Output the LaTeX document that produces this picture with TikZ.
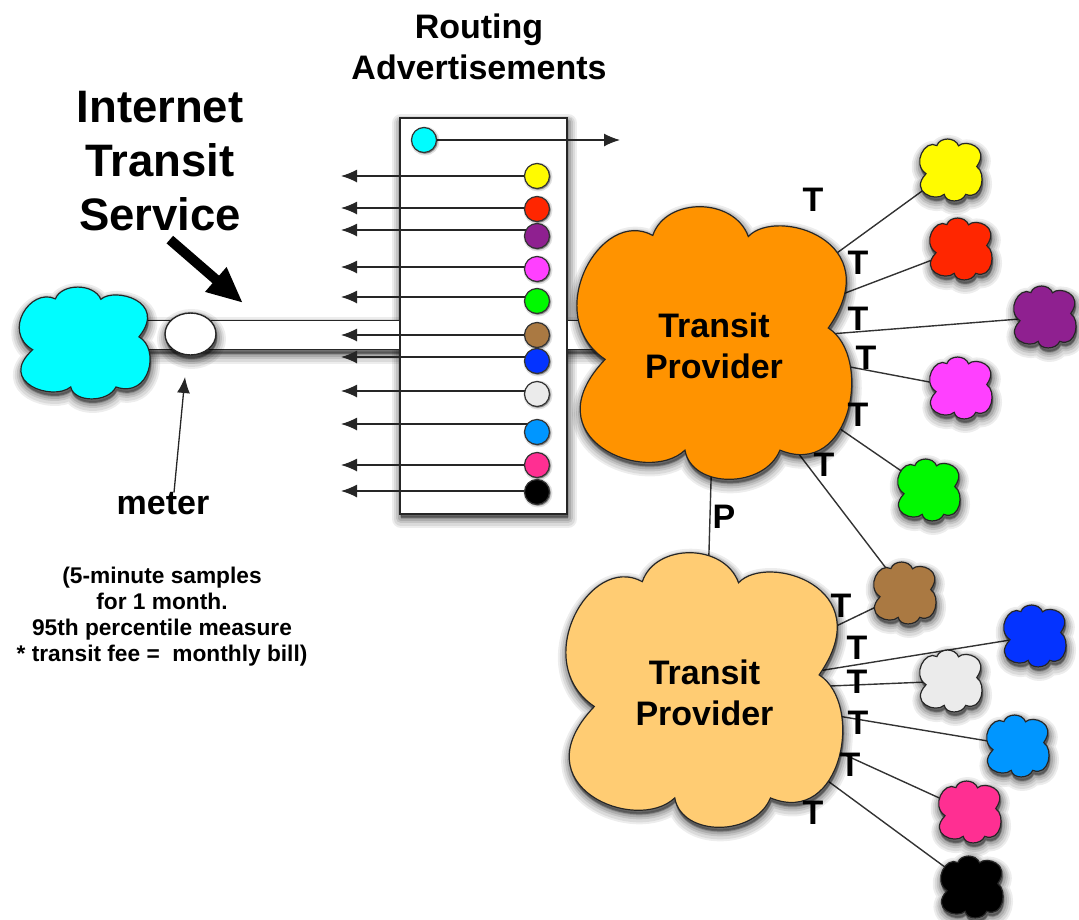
\documentclass[tikz,border=0pt]{standalone}
\usepackage{fontspec}
\setmainfont{Liberation Sans}
\usetikzlibrary{shapes.geometric,arrows.meta}

\definecolor{cCyan}{HTML}{00FDFF}
\definecolor{cYellow}{HTML}{FFFB00}
\definecolor{cRed}{HTML}{FF2600}
\definecolor{cPurple}{HTML}{8F2090}
\definecolor{cMagenta}{HTML}{FF40FF}
\definecolor{cGreen}{HTML}{00F900}
\definecolor{cBrown}{HTML}{AA7942}
\definecolor{cBlue}{HTML}{0433FF}
\definecolor{cGray}{HTML}{EBEBEB}
\definecolor{cAzure}{HTML}{0096FF}
\definecolor{cPink}{HTML}{FF2F92}
\definecolor{cOrange}{HTML}{FF9300}
\definecolor{cSand}{HTML}{FFCC73}

\pgfdeclarelayer{backlayer}
\pgfdeclarelayer{edgelayer}
\pgfsetlayers{backlayer,edgelayer,main}

% six lobes, the same outline at every size
\newdimen\cldcx \newdimen\cldcy \newdimen\cldhw \newdimen\cldhh
\newcommand{\cldpt}[2]{\pgfpoint{\cldcx+(#1)*\cldhw}{\cldcy+(#2)*\cldhh}}
\makeatletter
\pgfdeclareshape{puffcloud}{
  \inheritsavedanchors[from=rectangle]
  \inheritanchorborder[from=rectangle]
  \inheritanchor[from=rectangle]{center}
  \inheritanchor[from=rectangle]{north}
  \inheritanchor[from=rectangle]{south}
  \inheritanchor[from=rectangle]{east}
  \inheritanchor[from=rectangle]{west}
  \backgroundpath{
    \southwest \pgf@xa=\pgf@x \pgf@ya=\pgf@y
    \northeast \pgf@xb=\pgf@x \pgf@yb=\pgf@y
    \cldcx=0.5\pgf@xa \advance\cldcx by 0.5\pgf@xb
    \cldcy=0.5\pgf@ya \advance\cldcy by 0.5\pgf@yb
    \cldhw=0.5\pgf@xb \advance\cldhw by -0.5\pgf@xa
    \cldhh=0.5\pgf@yb \advance\cldhh by -0.5\pgf@ya
    \pgfpathmoveto{\cldpt{-0.456}{0.788}}
    \pgfpathcurveto{\cldpt{-0.36}{1.07}}{\cldpt{0.14}{1.07}}{\cldpt{0.244}{0.78}}
    \pgfpathcurveto{\cldpt{0.45}{1.0}}{\cldpt{1.28}{0.75}}{\cldpt{0.83}{0.11}}
    \pgfpathcurveto{\cldpt{1.16}{-0.1}}{\cldpt{1.0}{-1.0}}{\cldpt{0.476}{-0.785}}
    \pgfpathcurveto{\cldpt{0.36}{-1.07}}{\cldpt{-0.17}{-1.07}}{\cldpt{-0.22}{-0.785}}
    \pgfpathcurveto{\cldpt{-0.5}{-1.05}}{\cldpt{-1.36}{-0.7}}{\cldpt{-0.805}{-0.12}}
    \pgfpathcurveto{\cldpt{-1.28}{0.2}}{\cldpt{-0.84}{1.0}}{\cldpt{-0.456}{0.788}}
    \pgfpathclose
  }
}
\makeatother

\tikzset{
  shadelayer/.style n args={3}{preaction={draw=black,fill=black,line join=round,line width=#1pt,opacity=#2,
    transform canvas={xshift=1pt,yshift=-#3pt}}},
  softshadow/.style={shadelayer={18}{.07}{5},shadelayer={14}{.08}{5},shadelayer={10}{.1}{4},
    shadelayer={6}{.12}{4},shadelayer={2}{.14}{3}},
  bigcloud/.style={puffcloud,draw=black!85,line width=1.2pt,inner sep=0pt,outer sep=0pt,softshadow},
  smallcloud/.style={puffcloud,draw=black!85,line width=1.2pt,inner sep=0pt,outer sep=0pt,
    minimum width=62pt,minimum height=62pt,softshadow},
  plainbox/.style={draw=black!85,fill=white,line width=1.4pt,inner sep=0pt},
  advdot/.style={circle,draw=black!80,line width=1.2pt,minimum size=25pt,inner sep=0pt,
    shadelayer={4}{.12}{1},shadelayer={1}{.2}{1}},
  advline/.style={line width=1.3pt,black!85,-{Latex[length=16pt,width=13pt]}},
  linkline/.style={line width=1.4pt,black!80},
  lbl/.style={font=\labelfont,inner sep=0pt,align=center}
}
\newcommand{\labelfont}{\bfseries\fontsize{34}{41}\selectfont}

\begin{document}
\begin{tikzpicture}[x=1pt,y=-1pt]
\useasboundingbox (0,0) rectangle (1079,919);

% shadow of the box goes under the pipe, the box itself over it
\begin{pgfonlayer}{backlayer}
\node[softshadow,minimum width=167pt,minimum height=396pt,inner sep=0pt] (advshade) at (483.5,316) {};
\node[plainbox,softshadow,minimum width=480pt,minimum height=29pt] (pipe) at (370,335) {};
\node[plainbox,minimum width=167pt,minimum height=396pt] (advbox) at (483.5,316) {};
\end{pgfonlayer}

% access cloud and meter
\node[smallcloud,fill=cCyan,minimum width=130pt,minimum height=112pt] (source) at (85,343) {};
\node[plainbox,softshadow,ellipse,minimum width=51pt,minimum height=42pt] (meter) at (190.5,334) {};

% titles
\node[lbl,font=\bfseries\fontsize{45.5}{54}\selectfont] (title) at (160,161) {Internet\\Transit\\Service};
\node[lbl] (routing) at (479,47) {Routing\\Advertisements};
\node[lbl] (meterlabel) at (163,504) {meter};
\node[lbl,font=\bfseries\fontsize{22.7}{26}\selectfont] (note) at (162,617) {(5-minute samples\\for 1 month.\\95th percentile measure\\* transit fee = \ monthly bill)};

\coordinate (bigtip) at (243,303);
\draw[line width=10pt,-{Triangle[length=36pt,width=30pt]},shorten <=13pt] (title.south) -- (bigtip);
\coordinate (metertip) at (185,377);
\draw[advline] ([xshift=11pt]meterlabel.north) -- (metertip);

% routes in the box
\node[advdot,fill=cCyan] (advsource) at (424,140) {};
\coordinate (outtip) at (620,140);
\begin{pgfonlayer}{edgelayer}
\draw[advline] (advsource) -- (outtip);
\end{pgfonlayer}
\foreach \name/\col/\cy/\ly in {yellow/cYellow/176/176,red/cRed/209/208,purple/cPurple/236/230,
  magenta/cMagenta/269/267,green/cGreen/301/297,brown/cBrown/335/335,blue/cBlue/361/357,
  gray/cGray/394/391,azure/cAzure/432/424,pink/cPink/465/465,black/black/492/491}{
  \node[advdot,fill=\col] (adv\name) at (537,\cy) {};
  \coordinate (tip\name) at (341,\ly);
  \begin{pgfonlayer}{edgelayer}
  \draw[advline] (tip\name -| adv\name.center) -- (tip\name);
  \end{pgfonlayer}
}

% the two providers
\node[bigcloud,fill=cOrange,minimum width=273pt,minimum height=273pt] (upper) at (715,343) {};
\node[bigcloud,fill=cSand,minimum width=275pt,minimum height=275pt] (lower) at (705,690) {};
\node[lbl] (upperlabel) at (714,346) {Transit\\Provider};
\node[lbl] (lowerlabel) at (704.5,692.5) {Transit\\Provider};
\begin{pgfonlayer}{edgelayer}
\draw[linkline] (upper.center) -- (lower.center);
\end{pgfonlayer}
\node[lbl] (peer) at (724,517) {P};

% customers
\foreach \name/\col/\cx/\cy/\px/\py in {yellow/cYellow/951/170/830/258,red/cRed/961/249/840/295,
  purple/cPurple/1045/317/830/334,magenta/cMagenta/961/388/845/366,green/cGreen/929/490/830/422,
  brown/cBrown/905/593/795/449,blue/cBlue/1035/636/818/671,gray/cGray/951/681/830/686,
  azure/cAzure/1018/746/838/716,pink/cPink/970/812/832/749,black/black/972/887/817/773}{
  \node[smallcloud,fill=\col] (cust\name) at (\cx,\cy) {};
  \coordinate (port\name) at (\px,\py);
  \begin{pgfonlayer}{edgelayer}
  \draw[linkline] (port\name) -- (cust\name.center);
  \end{pgfonlayer}
}
\coordinate (portbrownb) at (830,629);
\begin{pgfonlayer}{edgelayer}
\draw[linkline] (portbrownb) -- (custbrown.center);
\end{pgfonlayer}

% link labels
\foreach \i/\x/\y in {1/813/200,2/858/263,3/858/319,4/866/358,5/858/415,6/824/465,
  7/841/606,8/857/648,9/857/682,10/858/723,11/850/765,12/813/813}{
  \node[lbl] (t\i) at (\x,\y) {T};
}
\end{tikzpicture}
\end{document}
